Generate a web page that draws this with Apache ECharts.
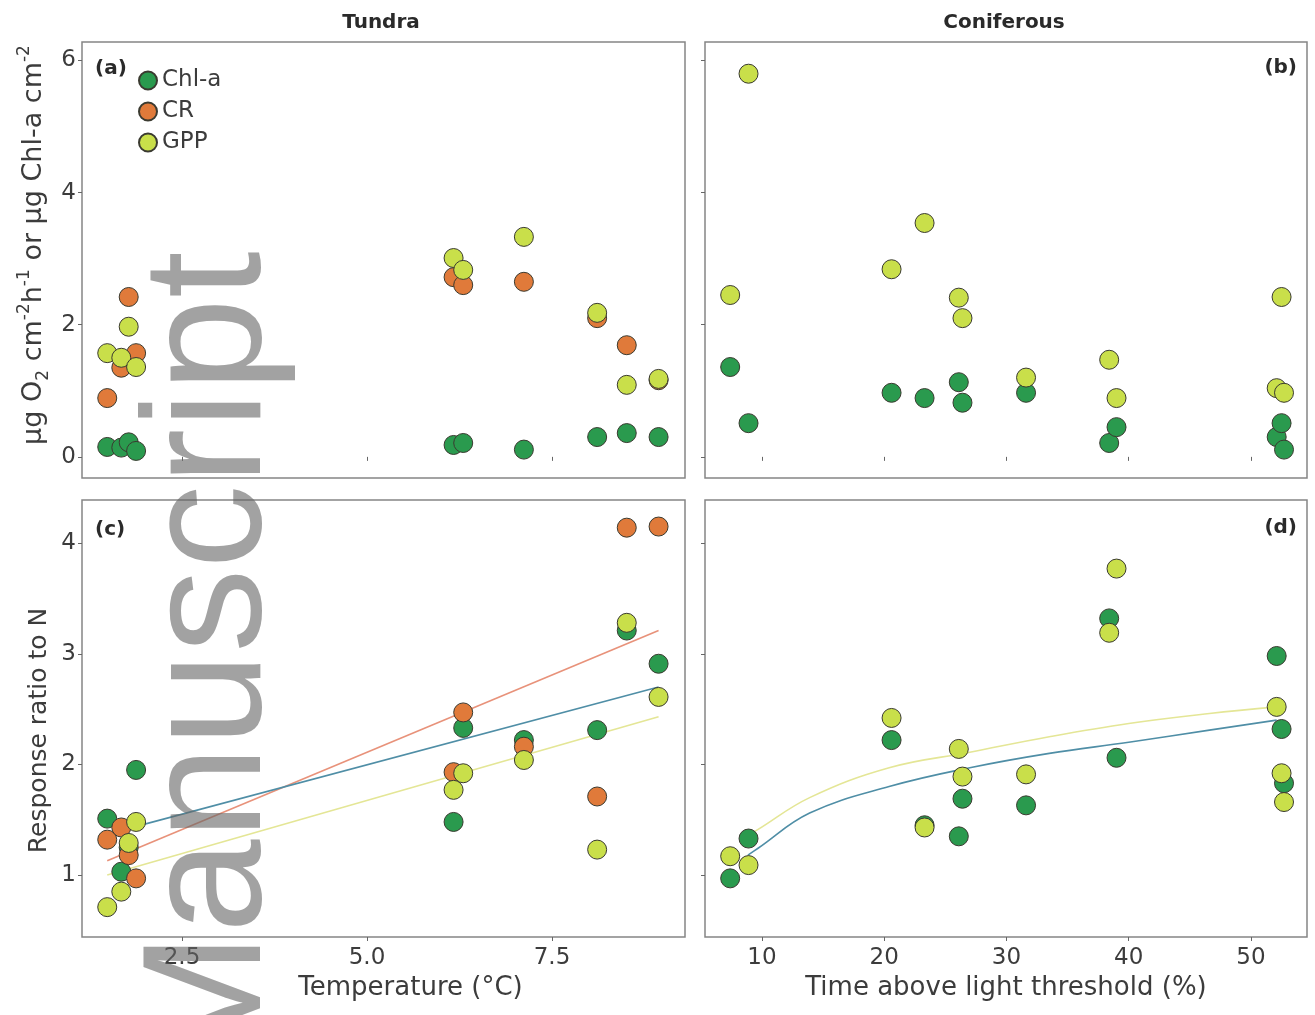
<!DOCTYPE html>
<html>
<head>
<meta charset="utf-8">
<script src="https://cdn.jsdelivr.net/npm/echarts@6/dist/echarts.min.js"></script>
<style>
html,body{margin:0;padding:0;background:#fff;}
#chart{width:1315px;height:1015px;}
</style>
</head>
<body>
<div id="chart"></div>
<script>
// ---------- data ----------
// Tundra sites: temperature (°C)
const tundraTemp = [1.49, 1.68, 1.78, 1.88, 6.17, 6.30, 7.12, 8.11, 8.51, 8.94];
// Panel (a): absolute values
const tundraChlA = [0.15, 0.14, 0.22, 0.09, 0.18, 0.21, 0.11, 0.30, 0.36, 0.30];
const tundraCR   = [0.89, 1.35, 2.42, 1.57, 2.72, 2.60, 2.65, 2.10, 1.69, 1.16];
const tundraGPP  = [1.57, 1.50, 1.97, 1.36, 3.01, 2.83, 3.33, 2.18, 1.09, 1.18];
// Panel (c): response ratio to N
const tundraChlA_RR = [1.51, 1.03, 1.25, 1.95, 1.48, 2.33, 2.22, 2.31, 3.21, 2.91];
const tundraCR_RR   = [1.32, 1.43, 1.18, 0.97, 1.93, 2.47, 2.16, 1.71, 4.14, 4.15];
const tundraGPP_RR  = [0.71, 0.85, 1.29, 1.48, 1.77, 1.92, 2.04, 1.23, 3.28, 2.61];
// Panel (c): fitted lines (end points)
const fitTempX   = [1.49, 8.94];
const fitChlA_C  = [1.37, 2.70];
const fitCR_C    = [1.13, 3.21];
const fitGPP_C   = [1.00, 2.43];

// Coniferous sites: time above light threshold (%)
const coniferLight = [7.4, 8.9, 20.6, 23.3, 26.1, 26.4, 31.6, 38.4, 39.0, 52.1, 52.5, 52.7];
// Panel (b)
const coniferChlA = [1.36, 0.51, 0.97, 0.89, 1.13, 0.82, 0.97, 0.21, 0.45, 0.30, 0.51, 0.11];
const coniferGPP  = [2.45, 5.80, 2.84, 3.54, 2.41, 2.10, 1.20, 1.47, 0.89, 1.04, 2.42, 0.97];
// Panel (d)
const coniferChlA_RR = [0.97, 1.33, 2.22, 1.45, 1.35, 1.69, 1.63, 3.32, 2.06, 2.98, 2.32, 1.83];
const coniferGPP_RR  = [1.17, 1.09, 2.42, 1.43, 2.14, 1.89, 1.91, 3.19, 3.77, 2.52, 1.92, 1.66];
// Panel (d): fitted curves
const fitLightX   = [8.85, 9.65, 13.9, 20.4, 27.0, 33.5, 40.0, 46.6, 52.1];
const fitChlA_D   = [1.18, 1.24, 1.56, 1.80, 1.97, 2.10, 2.20, 2.31, 2.40];
const fitGPP_D    = [1.36, 1.41, 1.70, 1.97, 2.11, 2.25, 2.37, 2.46, 2.52];

// tick labels
const tempTicks  = [2.5, 5.0, 7.5];
const lightTicks = [10, 20, 30, 40, 50];
const absTicks   = [0, 2, 4, 6];
const rrTicks    = [1, 2, 3, 4];

// ---------- styling ----------
const COL = { chl: '#2a9a4e', cr: '#e07a3a', gpp: '#c9df4a' };
const FIT = { chl: '#4f8ea6', cr: '#e8927a', gpp: '#e4e696' };
const FONT = 'DejaVu Sans';
const pair = (xs, ys) => xs.map((x, i) => [x, ys[i]]);

function scatter(name, color, xi, yi, xs, ys) {
  return {
    type: 'scatter', name, xAxisIndex: xi, yAxisIndex: yi,
    data: pair(xs, ys), symbol: 'circle', symbolSize: 19, z: 3,
    itemStyle: { color, borderColor: '#3a3a30', borderWidth: 1, opacity: 1 }
  };
}
function fitLine(color, xi, yi, xs, ys, smooth) {
  return {
    type: 'line', name: 'fit', xAxisIndex: xi, yAxisIndex: yi,
    data: pair(xs, ys), symbol: 'none', smooth: smooth ? 0.4 : false, z: 2,
    lineStyle: { color, width: 1.6 }, silent: true
  };
}

const tickLab = { fontFamily: FONT, fontSize: 23, color: '#3c3c3c' };
const tickCfg = { show: true, inside: false, length: 4, lineStyle: { color: '#666' } };

function xAx(gi, min, max, ticks, showLabels, fmt, name, namePad) {
  return {
    gridIndex: gi, type: 'value', min, max,
    axisLine: { show: false }, splitLine: { show: false },
    axisTick: Object.assign({ customValues: ticks }, tickCfg),
    axisLabel: Object.assign({ show: showLabels, customValues: ticks, margin: 10, formatter: fmt }, tickLab),
    name: name || '', nameLocation: 'middle', nameGap: 38,
    nameTextStyle: { fontFamily: FONT, fontSize: 26, color: '#3c3c3c', padding: namePad || 0 }
  };
}
function yAx(gi, min, max, ticks, showLabels, name, nameStyle) {
  return {
    gridIndex: gi, type: 'value', min, max,
    axisLine: { show: false }, splitLine: { show: false },
    axisTick: Object.assign({ customValues: ticks }, tickCfg),
    axisLabel: Object.assign({ show: showLabels, customValues: ticks, margin: 6 }, tickLab),
    name: name || '', nameLocation: 'middle', nameRotate: 90, nameGap: 30,
    nameTextStyle: Object.assign({ fontFamily: FONT, fontSize: 24, color: '#3c3c3c' }, nameStyle || {})
  };
}

const gridStyle = { show: true, borderColor: '#858585', borderWidth: 1.5, backgroundColor: 'transparent' };

const yNameA = '{n|μg O}{sub|2}{n| cm}{sup|-2}{n|h}{sup|-1}{n| or μg Chl-a cm}{sup|-2}';
const yStyleA = {
  padding: [0, 0, 0, 30],
  rich: {
    n:   { fontFamily: FONT, fontSize: 27, color: '#3c3c3c', lineHeight: 36 },
    sup: { fontFamily: FONT, fontSize: 17, color: '#3c3c3c', verticalAlign: 'top', lineHeight: 36 },
    sub: { fontFamily: FONT, fontSize: 17, color: '#3c3c3c', verticalAlign: 'bottom', lineHeight: 36 }
  }
};
const yStyleC = { fontSize: 25, padding: [0, 24, 0, 0] };

const option = {
  backgroundColor: '#ffffff',
  animation: false,
  grid: [
    Object.assign({ left: 82, top: 42, width: 603, height: 436 }, gridStyle),
    Object.assign({ left: 705, top: 42, width: 602, height: 436 }, gridStyle),
    Object.assign({ left: 82, top: 500, width: 603, height: 437 }, gridStyle),
    Object.assign({ left: 705, top: 500, width: 602, height: 437 }, gridStyle)
  ],
  xAxis: [
    xAx(0, 1.149, 9.297, tempTicks, false),
    xAx(1, 5.34, 54.58, lightTicks, false),
    xAx(2, 1.149, 9.297, tempTicks, true, v => v.toFixed(1), 'Temperature (°C)', [0, 0, 0, 54]),
    xAx(3, 5.34, 54.58, lightTicks, true, v => String(v), 'Time above light threshold (%)')
  ],
  yAxis: [
    yAx(0, -0.32, 6.28, absTicks, true, yNameA, yStyleA),
    yAx(1, -0.32, 6.28, absTicks, false),
    yAx(2, 0.44, 4.39, rrTicks, true, 'Response ratio to N', yStyleC),
    yAx(3, 0.44, 4.39, rrTicks, false)
  ],
  legend: {
    data: ['Chl-a', 'CR', 'GPP'],
    orient: 'vertical', left: 133, top: 64,
    itemWidth: 18, itemHeight: 18, itemGap: 8, icon: 'circle',
    textStyle: { fontFamily: FONT, fontSize: 23, color: '#3c3c3c', padding: [0, 0, 0, 0] },
    selectedMode: false
  },
  series: [
    fitLine(FIT.cr, 2, 2, fitTempX, fitCR_C),
    fitLine(FIT.chl, 2, 2, fitTempX, fitChlA_C),
    fitLine(FIT.gpp, 2, 2, fitTempX, fitGPP_C),
    fitLine(FIT.gpp, 3, 3, fitLightX, fitGPP_D, true),
    fitLine(FIT.chl, 3, 3, fitLightX, fitChlA_D, true),

    scatter('Chl-a', COL.chl, 0, 0, tundraTemp, tundraChlA),
    scatter('CR',    COL.cr,  0, 0, tundraTemp, tundraCR),
    scatter('GPP',   COL.gpp, 0, 0, tundraTemp, tundraGPP),

    scatter('Chl-a', COL.chl, 1, 1, coniferLight, coniferChlA),
    scatter('GPP',   COL.gpp, 1, 1, coniferLight, coniferGPP),

    scatter('Chl-a', COL.chl, 2, 2, tundraTemp, tundraChlA_RR),
    scatter('CR',    COL.cr,  2, 2, tundraTemp, tundraCR_RR),
    scatter('GPP',   COL.gpp, 2, 2, tundraTemp, tundraGPP_RR),

    scatter('Chl-a', COL.chl, 3, 3, coniferLight, coniferChlA_RR),
    scatter('GPP',   COL.gpp, 3, 3, coniferLight, coniferGPP_RR)
  ],
  graphic: [
    { type: 'text', x: 381, y: 23, style: { text: 'Tundra', font: 'bold 20px "DejaVu Sans"', fill: '#2a2a2a', align: 'center', verticalAlign: 'middle' } },
    { type: 'text', x: 1004, y: 23, style: { text: 'Coniferous', font: 'bold 20px "DejaVu Sans"', fill: '#2a2a2a', align: 'center', verticalAlign: 'middle' } },
    { type: 'text', x: 95, y: 69, style: { text: '(a)', font: 'bold 20px "DejaVu Sans"', fill: '#2a2a2a', align: 'left', verticalAlign: 'middle' } },
    { type: 'text', x: 1297, y: 68, style: { text: '(b)', font: 'bold 20px "DejaVu Sans"', fill: '#2a2a2a', align: 'right', verticalAlign: 'middle' } },
    { type: 'text', x: 95, y: 530, style: { text: '(c)', font: 'bold 20px "DejaVu Sans"', fill: '#2a2a2a', align: 'left', verticalAlign: 'middle' } },
    { type: 'text', x: 1297, y: 528, style: { text: '(d)', font: 'bold 20px "DejaVu Sans"', fill: '#2a2a2a', align: 'right', verticalAlign: 'middle' } },
    { type: 'text', x: 214, y: 1073, rotation: Math.PI / 2, z: 100,
      style: { text: 'Manuscript', font: '168px "Liberation Sans"', fill: 'rgba(100,100,100,0.6)', align: 'left', verticalAlign: 'middle' } }
  ]
};

const chart = echarts.init(document.getElementById('chart'), null, { renderer: 'canvas' });
chart.setOption(option);
</script>
</body>
</html>
